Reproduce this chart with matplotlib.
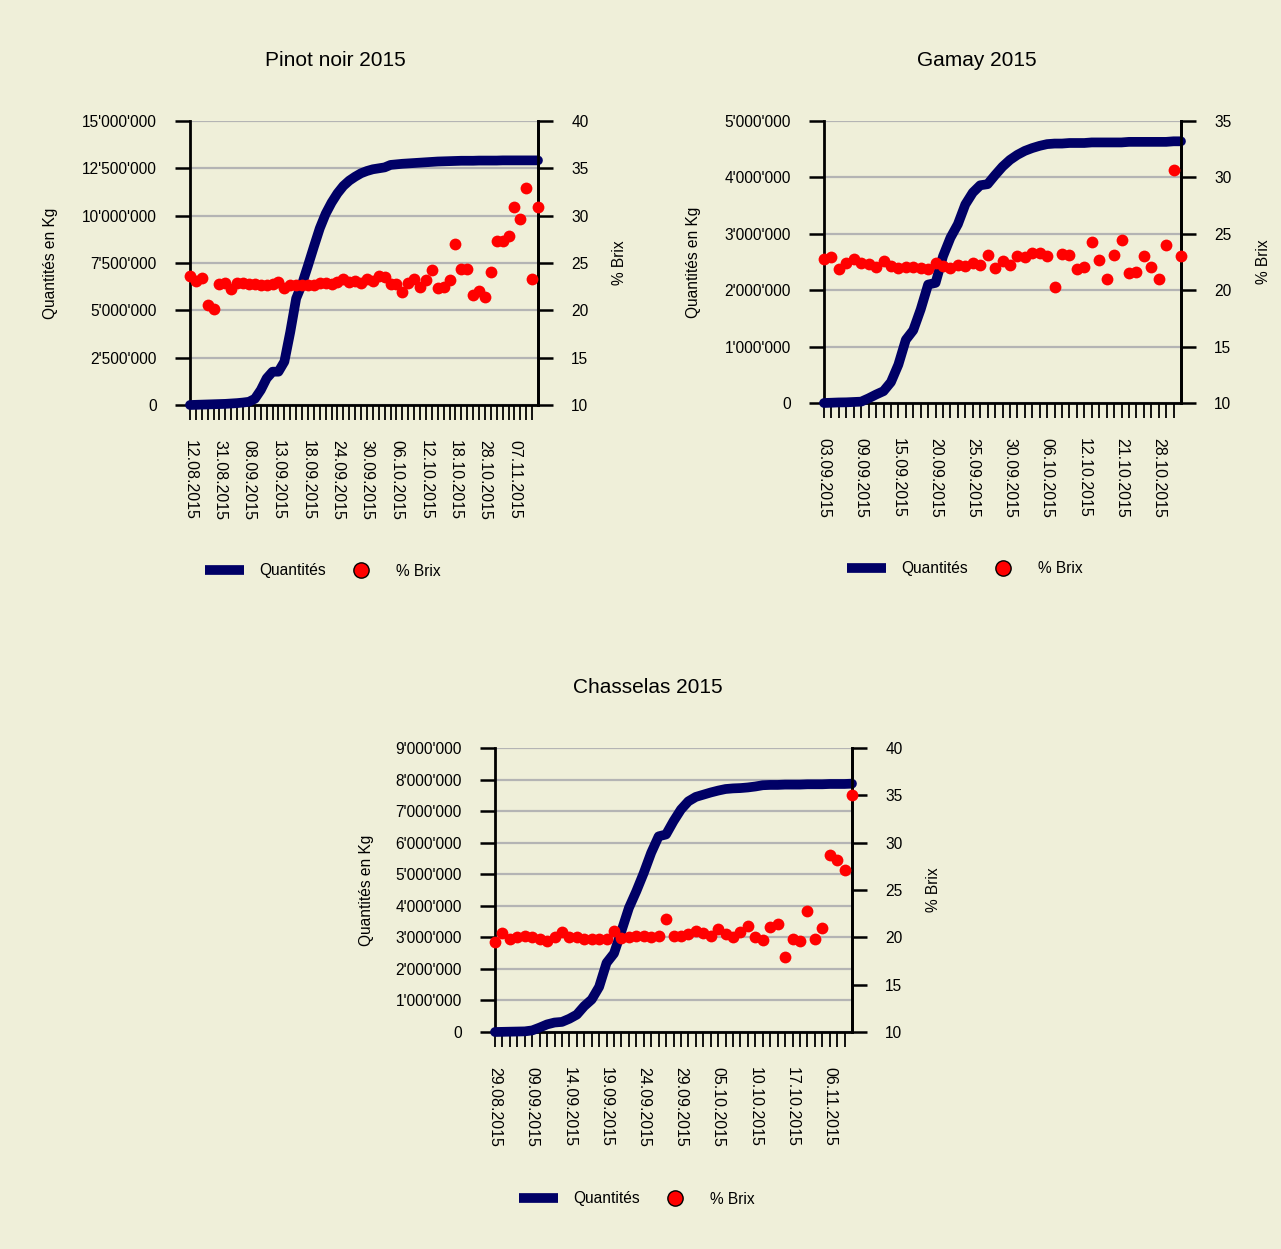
import matplotlib
matplotlib.use("Agg")
import matplotlib.pyplot as plt
from matplotlib.lines import Line2D
from matplotlib.ticker import FuncFormatter

plt.rcParams["font.family"] = ["Liberation Sans", "DejaVu Sans"]

BG = "#EFEFD9"
NAVY = "#000066"
RED = "#FF0000"

# Pinot noir (quantités cumulées en millions de kg, % Brix)
pinot_qty = [0, 0.01, 0.02, 0.03, 0.04, 0.05, 0.06, 0.08, 0.10, 0.13,
             0.17, 0.33, 0.79, 1.41, 1.76, 1.76, 2.29, 3.86, 5.63, 6.39,
             7.36, 8.36, 9.33, 10.10, 10.69, 11.18, 11.57, 11.85, 12.06, 12.24,
             12.36, 12.45, 12.50, 12.55, 12.68, 12.71, 12.74, 12.76, 12.78, 12.80,
             12.82, 12.84, 12.86, 12.87, 12.88, 12.89, 12.90, 12.90, 12.90, 12.91,
             12.91, 12.91, 12.91, 12.92, 12.92, 12.92, 12.92, 12.92, 12.92, 12.92]
pinot_brix = [23.6, 23.1, 23.4, 20.6, 20.1, 22.8, 22.9, 22.3, 22.9, 22.9,
              22.75, 22.75, 22.65, 22.7, 22.8, 22.95, 22.35, 22.65, 22.65, 22.7,
              22.7, 22.65, 22.85, 22.85, 22.8, 22.95, 23.3, 22.95, 23.05, 22.85,
              23.3, 23.15, 23.6, 23.5, 22.8, 22.8, 21.9, 22.85, 23.3, 22.5,
              23.2, 24.3, 22.4, 22.5, 23.2, 27.0, 24.4, 24.4, 21.6, 22.0,
              21.4, 24.0, 27.35, 27.35, 27.85, 30.9, 29.6, 32.95, 23.3, 30.9]
pinot_dates = ["12.08.2015", "31.08.2015", "08.09.2015", "13.09.2015",
               "18.09.2015", "24.09.2015", "30.09.2015", "06.10.2015",
               "12.10.2015", "18.10.2015", "28.10.2015", "07.11.2015"]

# Gamay
gamay_qty = [0, 0.005, 0.01, 0.012, 0.018, 0.024, 0.083, 0.15, 0.21, 0.37,
             0.68, 1.12, 1.29, 1.66, 2.10, 2.13, 2.60, 2.93, 3.17, 3.52,
             3.73, 3.86, 3.88, 4.04, 4.19, 4.31, 4.40, 4.47, 4.52, 4.56,
             4.59, 4.60, 4.60, 4.61, 4.61, 4.61, 4.62, 4.62, 4.62, 4.62,
             4.62, 4.63, 4.63, 4.63, 4.63, 4.63, 4.63, 4.64, 4.64]
gamay_brix = [22.8, 22.95, 21.9, 22.45, 22.8, 22.4, 22.3, 22.1, 22.6, 22.15,
              22.0, 22.1, 22.05, 21.95, 21.9, 22.45, 22.15, 22.0, 22.25, 22.15,
              22.4, 22.2, 23.1, 22.0, 22.6, 22.2, 23.0, 22.95, 23.3, 23.3,
              23.0, 20.3, 23.2, 23.1, 21.9, 22.05, 24.3, 22.65, 21.0, 23.15,
              24.45, 21.5, 21.6, 23.0, 22.05, 21.0, 24.05, 30.7, 23.0]
gamay_dates = ["03.09.2015", "09.09.2015", "15.09.2015", "20.09.2015",
               "25.09.2015", "30.09.2015", "06.10.2015", "12.10.2015",
               "21.10.2015", "28.10.2015"]

# Chasselas
chasselas_qty = [0, 0.005, 0.01, 0.015, 0.02, 0.05, 0.14, 0.24, 0.30, 0.32,
                 0.42, 0.55, 0.82, 1.03, 1.43, 2.19, 2.49, 3.20, 3.93, 4.46,
                 5.04, 5.68, 6.20, 6.26, 6.68, 7.05, 7.31, 7.45, 7.52, 7.59,
                 7.65, 7.70, 7.72, 7.73, 7.75, 7.78, 7.82, 7.83, 7.83, 7.84,
                 7.84, 7.84, 7.85, 7.85, 7.85, 7.86, 7.86, 7.86, 7.87]
chasselas_brix = [19.5, 20.5, 19.8, 20.0, 20.1, 20.0, 19.8, 19.6, 20.0, 20.55,
                  20.0, 20.0, 19.8, 19.85, 19.8, 19.8, 20.65, 19.9, 20.0, 20.1,
                  20.1, 20.0, 20.1, 21.95, 20.1, 20.1, 20.3, 20.65, 20.5, 20.1,
                  20.85, 20.3, 20.05, 20.55, 21.25, 20.05, 19.7, 21.1, 21.45, 17.95,
                  19.85, 19.6, 22.75, 19.85, 20.95, 28.65, 28.15, 27.15, 35.0]
chasselas_dates = ["29.08.2015", "09.09.2015", "14.09.2015", "19.09.2015",
                   "24.09.2015", "29.09.2015", "05.10.2015", "10.10.2015",
                   "17.10.2015", "06.11.2015"]

W, H = 1281, 1249
fig = plt.figure(figsize=(W / 100, H / 100), dpi=100, facecolor=BG)


def fmt_kg(v, pos):
    return f"{int(round(v)):,}".replace(",", "'")


def draw_panel(box, qty, brix, dates, qmax, qstep, bmax, title, title_xy,
               ylab_x, blab_x, leg_xy):
    x0, y0, x1, y1 = box
    ax = fig.add_axes([x0 / W, 1 - y1 / H, (x1 - x0) / W, (y1 - y0) / H])
    ax.set_facecolor(BG)
    n = len(qty)
    xs = list(range(n))

    # grille + axe quantités
    ax.set_ylim(0, qmax)
    yt = [i * qstep for i in range(int(round(qmax / qstep)) + 1)]
    ax.set_yticks(yt)
    ax.yaxis.set_major_formatter(FuncFormatter(fmt_kg))
    ax.grid(axis="y", color="#B4B4B4", lw=1.6)
    ax.set_axisbelow(True)
    ax.plot(xs, [q * 1e6 for q in qty], color=NAVY, lw=7,
            solid_capstyle="round", solid_joinstyle="round", clip_on=False, zorder=3)
    ax.set_xlim(0, n - 1)

    # ticks catégories, une étiquette sur 5
    ax.set_xticks(xs[:-1])
    ax.set_xticklabels([dates[i // 5] if i % 5 == 0 else "" for i in xs[:-1]],
                       rotation=-90, fontsize=11.5, va="top", ha="center")
    ax.tick_params(axis="x", length=11, width=1.3, pad=14, direction="out")
    ax.tick_params(axis="y", length=11, width=1.8, pad=13, labelsize=11.2)

    ax.spines["top"].set_visible(False)
    for s in ["left", "right", "bottom"]:
        ax.spines[s].set_linewidth(2)

    # axe % Brix
    ax2 = ax.twinx()
    ax2.set_ylim(10, bmax)
    ax2.set_yticks(list(range(10, bmax + 1, 5)))
    ax2.tick_params(axis="y", length=11, width=1.8, pad=13, labelsize=11.2)
    ax2.spines["top"].set_visible(False)
    ax2.spines["right"].set_linewidth(2)
    ax2.spines["left"].set_visible(False)
    ax2.spines["bottom"].set_visible(False)
    ax2.plot(xs, brix, "o", color=RED, ms=8.5, mec="none", clip_on=False, zorder=4)

    # textes
    fig.text(title_xy[0] / W, 1 - title_xy[1] / H, title, fontsize=15,
             ha="center", va="center")
    yc = 1 - (y0 + y1) / 2 / H
    fig.text(ylab_x / W, yc, "Quantités en Kg", rotation=90, fontsize=11.2,
             ha="center", va="center")
    fig.text(blab_x / W, yc, "% Brix", rotation=90, fontsize=11.2,
             ha="center", va="center")

    handles = [Line2D([], [], color=NAVY, lw=7, solid_capstyle="butt"),
               Line2D([], [], ls="none", marker="o", ms=11, mfc=RED,
                      mec="black", mew=1)]
    fig.legend(handles, ["Quantités", "% Brix"], ncol=2, frameon=False,
               loc="center left", bbox_to_anchor=(leg_xy[0] / W, 1 - leg_xy[1] / H),
               borderpad=0, borderaxespad=0, fontsize=11.2, handlelength=2.5,
               handletextpad=1.0, columnspacing=1.0)


draw_panel((190, 121, 538, 405), pinot_qty, pinot_brix, pinot_dates,
           15e6, 2.5e6, 40, "Pinot noir 2015", (335, 60), 50, 620, (205, 571))
draw_panel((824, 121, 1181, 403), gamay_qty, gamay_brix, gamay_dates,
           5e6, 1e6, 35, "Gamay 2015", (977, 60), 693, 1263, (847, 569))
draw_panel((495, 748, 852, 1032), chasselas_qty, chasselas_brix, chasselas_dates,
           9e6, 1e6, 40, "Chasselas 2015", (648, 688), 366, 933, (519, 1199))

fig.savefig("out.png", dpi=100, facecolor=BG)
